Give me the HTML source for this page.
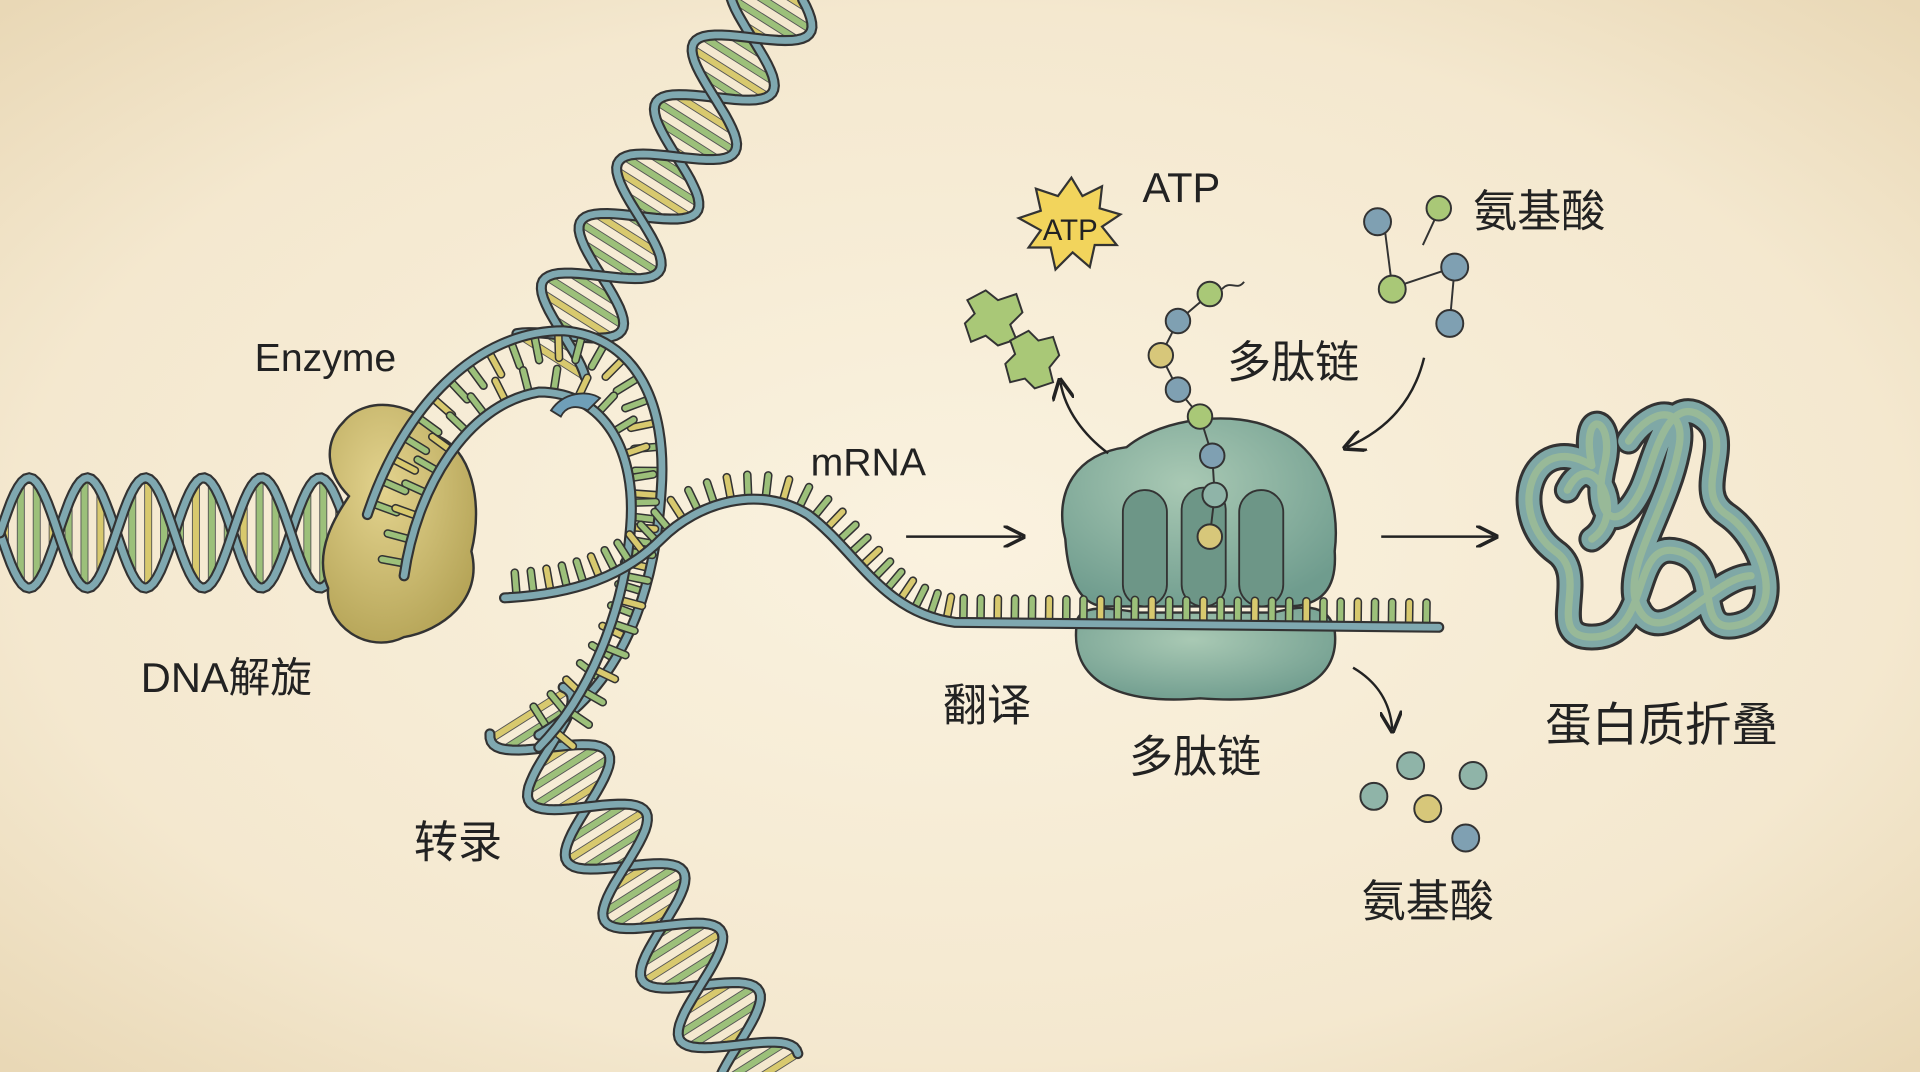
<!DOCTYPE html>
<html><head><meta charset="utf-8">
<style>
html,body{margin:0;padding:0;width:1920px;height:1072px;overflow:hidden;background:#f6ecd6;}
svg{display:block}
text{font-family:"Liberation Sans","Noto Sans CJK SC",sans-serif;fill:#222;}
</style></head>
<body>
<svg id="s" width="1920" height="1072" viewBox="0 0 1568 875" preserveAspectRatio="none" xmlns="http://www.w3.org/2000/svg">
<defs>
<radialGradient id="bg" cx="50%" cy="50%" r="70%">
<stop offset="0" stop-color="#faf2df"/><stop offset="0.7" stop-color="#f4e8cf"/><stop offset="1" stop-color="#e9d8b6"/>
</radialGradient>
<radialGradient id="rib" cx="45%" cy="35%" r="70%"><stop offset="0" stop-color="#a9c9b4"/><stop offset="1" stop-color="#6f9c8e"/></radialGradient>
<radialGradient id="enz" cx="40%" cy="35%" r="70%"><stop offset="0" stop-color="#e3d38e"/><stop offset="1" stop-color="#b5a457"/></radialGradient>
<marker id="ah" viewBox="0 0 10 10" refX="8" refY="5" markerWidth="9" markerHeight="9" orient="auto"><path d="M0,0 L10,5 L0,10" fill="none" stroke="#222" stroke-width="1.6"/></marker>
<path id="pf" d="M1300,380 C1250,350 1230,420 1270,450 C1300,470 1260,520 1300,520 C1350,520 1330,440 1370,450 C1410,460 1380,520 1420,510 C1460,500 1440,440 1410,420 C1380,400 1420,360 1390,340 C1360,320 1350,380 1340,400 C1320,440 1300,420 1310,380 C1320,340 1290,330 1300,380 M1330,360 C1350,330 1380,330 1370,370 C1360,420 1320,470 1340,500 C1360,530 1400,470 1430,470 M1280,400 C1300,360 1330,420 1300,440"/>
</defs>
<rect width="1568" height="875" fill="url(#bg)"/>
<g id="dna"></g>
<path d="M280,345 C300,320 345,330 355,355 C385,365 395,410 385,450 C395,490 360,515 330,520 C300,535 265,510 268,480 C255,450 275,420 285,405 C265,385 265,360 280,345Z" fill="url(#enz)" stroke="#333" stroke-width="2"/>
<g id="front"></g>
<path d="M880,505 C870,560 920,575 980,570 C1050,575 1095,560 1090,515 C1085,490 1060,495 1040,500 L930,500 C900,495 885,495 880,505Z" fill="url(#rib)" stroke="#333" stroke-width="2"/>
<path d="M870,440 C860,400 880,370 920,365 C950,340 1010,335 1040,350 C1080,365 1095,410 1090,450 C1092,480 1080,495 1050,495 L900,495 C880,492 872,470 870,440Z" fill="url(#rib)" stroke="#333" stroke-width="2"/>
<rect x="917" y="400" width="36" height="95" rx="18" fill="#6d9687" stroke="#333" stroke-width="1.5"/>
<rect x="965" y="398" width="36" height="97" rx="18" fill="#6d9687" stroke="#333" stroke-width="1.5"/>
<rect x="1012" y="400" width="36" height="95" rx="18" fill="#6d9687" stroke="#333" stroke-width="1.5"/>
<g id="mrna"></g>
<g id="beads"></g>
<g fill="none" stroke-linecap="round" stroke-linejoin="round">
<use href="#pf" stroke="#333" stroke-width="22"/>
<use href="#pf" stroke="#7fa8a6" stroke-width="17"/>
<use href="#pf" stroke="#a9c48f" stroke-width="6" opacity="0.6"/>
</g>
<polygon points="875,145 884,160 900,152 898,170 915,175 900,185 912,200 894,200 890,218 876,206 862,220 858,202 840,202 850,188 832,178 850,172 846,154 864,160" fill="#f2d45c" stroke="#333" stroke-width="1.8"/>
<text x="874" y="196" font-size="24" text-anchor="middle">ATP</text>
<path d="M790,245 l15,-8 l10,8 l15,-5 l5,15 l-10,10 l5,12 l-15,5 l-10,-8 l-12,5 l-5,-15 l8,-8Z" fill="#a9c877" stroke="#333" stroke-width="1.6"/>
<path d="M825,278 l15,-8 l8,8 l12,-3 l5,15 l-8,10 l3,12 l-15,5 l-8,-8 l-12,3 l-4,-15 l8,-8Z" fill="#a9c877" stroke="#333" stroke-width="1.6"/>
<g stroke="#333" stroke-width="1.6">
<line x1="1130" y1="180" x2="1137" y2="235"/><line x1="1137" y1="235" x2="1188" y2="218"/><line x1="1188" y1="218" x2="1184" y2="263"/><line x1="1162" y1="200" x2="1175" y2="172"/>
<circle cx="1125" cy="181" r="11" fill="#7fa0b2"/><circle cx="1175" cy="170" r="10" fill="#a9c877"/><circle cx="1137" cy="236" r="11" fill="#a9c877"/><circle cx="1188" cy="218" r="11" fill="#7fa0b2"/><circle cx="1184" cy="264" r="11" fill="#7fa0b2"/>
<circle cx="1122" cy="650" r="11" fill="#8fb4a8"/><circle cx="1152" cy="625" r="11" fill="#8fb4a8"/><circle cx="1203" cy="633" r="11" fill="#8fb4a8"/><circle cx="1166" cy="660" r="11" fill="#d7c77a"/><circle cx="1197" cy="684" r="11" fill="#7fa0b2"/>
</g>
<g fill="none" stroke="#222" stroke-width="2" marker-end="url(#ah)">
<line x1="740" y1="438" x2="834" y2="438"/>
<line x1="1128" y1="438" x2="1220" y2="438"/>
<path d="M905,370 C885,355 870,335 866,312"/>
<path d="M1163,292 C1155,325 1135,350 1100,365"/>
<path d="M1105,545 C1122,555 1135,570 1137,595"/>
</g>
<path d="M450,335 C460,320 480,318 490,325 L480,335 C470,330 462,332 458,340Z" fill="#6f9fb8" stroke="#333" stroke-width="1.5"/>
<text x="208" y="303" font-size="32">Enzyme</text>
<text x="115" y="565" font-size="34">DNA解旋</text>
<text x="338" y="700" font-size="36">转录</text>
<text x="662" y="388" font-size="32">mRNA</text>
<text x="770" y="588" font-size="36">翻译</text>
<text x="922" y="630" font-size="36">多肽链</text>
<text x="1002" y="308" font-size="36">多肽链</text>
<text x="933" y="165" font-size="34">ATP</text>
<text x="1203" y="185" font-size="36">氨基酸</text>
<text x="1112" y="748" font-size="36">氨基酸</text>
<text x="1262" y="605" font-size="38">蛋白质折叠</text>
</svg>
<script>
var NS="http://www.w3.org/2000/svg";
function el(g,t,a){var e=document.createElementNS(NS,t);for(var k in a)e.setAttribute(k,a[k]);g.appendChild(e);return e;}
function helix(g,x0,y0,x1,y1,amp,per,ph){
 var dx=x1-x0,dy=y1-y0,L=Math.hypot(dx,dy),ux=dx/L,uy=dy/L,nx=-uy,ny=ux;
 var a=[],b=[],N=Math.ceil(L/3);
 for(var i=0;i<=N;i++){var s=i*L/N,w=Math.sin(s/per*2*Math.PI+ph)*amp;
  a.push([x0+ux*s+nx*w,y0+uy*s+ny*w]);b.push([x0+ux*s-nx*w,y0+uy*s-ny*w]);}
 var j=0;for(var s=4;s<L;s+=13){var w=Math.sin(s/per*2*Math.PI+ph)*amp;
  var cx=x0+ux*s,cy=y0+uy*s;
  el(g,'line',{x1:cx+nx*w,y1:cy+ny*w,x2:cx-nx*w,y2:cy-ny*w,stroke:'#555','stroke-width':6.5});
  el(g,'line',{x1:cx+nx*w,y1:cy+ny*w,x2:cx-nx*w,y2:cy-ny*w,stroke:(j++%3==0)?'#d8c96e':'#9cc07a','stroke-width':5});}
 [a,b].forEach(function(p){var d='M'+p.map(function(q){return q[0].toFixed(1)+','+q[1].toFixed(1)}).join(' L');
  el(g,'path',{d:d,fill:'none',stroke:'#333','stroke-width':9,'stroke-linecap':'round'});
  el(g,'path',{d:d,fill:'none',stroke:'#7fa8b0','stroke-width':5.5,'stroke-linecap':'round'});});
}
var g=document.getElementById('dna');
helix(g,0,435,310,435,45,95,0);
helix(g,640,-10,450,290,38,115,0.5);
helix(g,430,580,620,880,38,115,1.2);
function strand(g,d,ticks,side,sp){
 var p=el(g,'path',{d:d,fill:'none',stroke:'none'});var L=p.getTotalLength();
 for(var s=10;s<L-5;s+=sp){var q=p.getPointAtLength(s),r=p.getPointAtLength(s+1);var tx=r.x-q.x,ty=r.y-q.y,n=Math.hypot(tx,ty);var nx=-ty/n*side,ny=tx/n*side;
  el(g,'line',{x1:q.x,y1:q.y,x2:q.x+nx*ticks,y2:q.y+ny*ticks,stroke:'#333','stroke-width':7,'stroke-linecap':'round'});
  el(g,'line',{x1:q.x,y1:q.y,x2:q.x+nx*ticks,y2:q.y+ny*ticks,stroke:(Math.round(s/sp)%3==0)?'#d8c96e':'#9cc07a','stroke-width':4.5,'stroke-linecap':'round'});}
 el(g,'path',{d:d,fill:'none',stroke:'#333','stroke-width':9,'stroke-linecap':'round'});
 el(g,'path',{d:d,fill:'none',stroke:'#7fa8b0','stroke-width':5.5,'stroke-linecap':'round'});
}
var f=document.getElementById('front');
strand(f,'M300,420 C330,330 390,270 460,270 C520,275 545,330 540,400 C535,480 510,560 440,600',22,1,20);
strand(f,'M330,470 C340,400 380,330 440,320 C495,320 520,370 515,430 C510,500 480,570 440,610',-20,1,20);
var m=document.getElementById('mrna');
strand(m,'M412,488 C470,485 510,470 540,440 C570,410 620,395 660,420 C700,450 720,500 780,508 C900,510 1050,510 1175,512',-20,1,14);
var b=document.getElementById('beads');
var pts=[[988,438],[992,404],[990,372],[980,340],[962,318],[948,290],[962,262],[988,240]];
el(b,'polyline',{points:pts.map(function(p){return p.join(',')}).join(' '),fill:'none',stroke:'#333','stroke-width':1.6});
var cols=['#d7c77a','#8fb4a8','#7fa0b2','#a9c877','#7fa0b2','#d7c77a','#7fa0b2','#a9c877'];
pts.forEach(function(p,i){el(b,'circle',{cx:p[0],cy:p[1],r:10,fill:cols[i],stroke:'#333','stroke-width':1.6});});
el(b,'path',{d:'M998,236 C1005,228 1010,238 1016,230',fill:'none',stroke:'#333','stroke-width':1.6});
</script>
</body></html>
